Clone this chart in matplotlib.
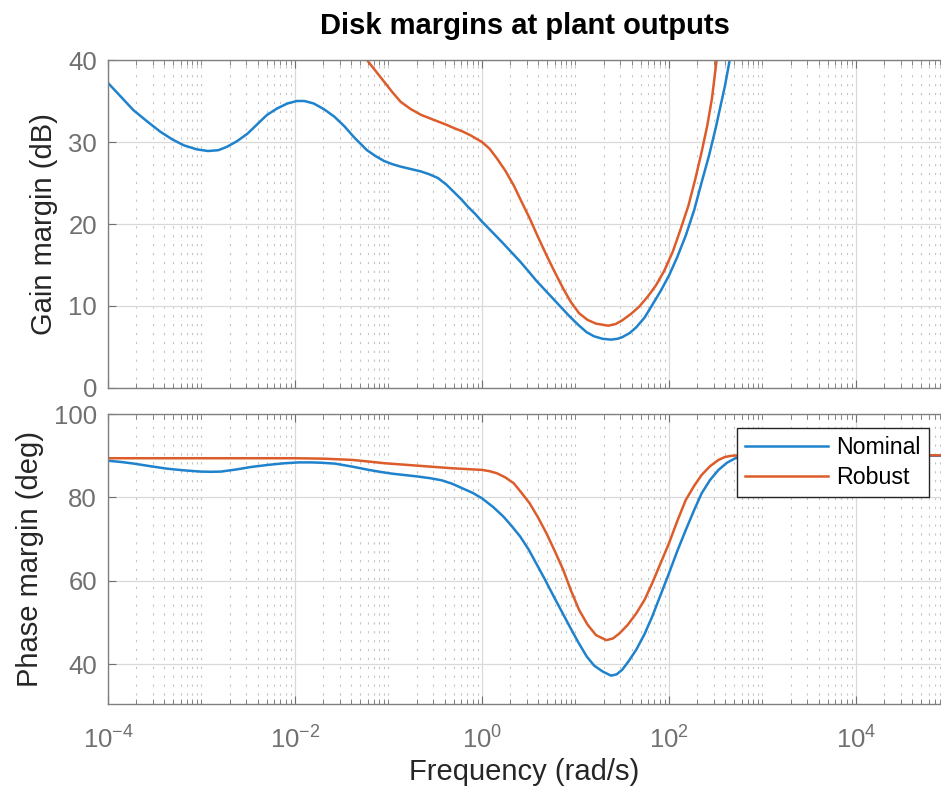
import numpy as np
import matplotlib.pyplot as plt
from matplotlib.ticker import FixedLocator, LogLocator, NullFormatter, FuncFormatter

plt.rcParams['font.family'] = 'Liberation Sans'
plt.rcParams['mathtext.fontset'] = 'custom'
plt.rcParams['mathtext.rm'] = 'Liberation Sans'
plt.rcParams['mathtext.default'] = 'regular'

# data (x as log10 of frequency in rad/s)
gm_nom_logf = [-4.00, -3.86, -3.73, -3.58, -3.44, -3.31, -3.19, -3.05, -2.93, -2.82,
               -2.73, -2.62, -2.51, -2.40, -2.30, -2.19, -2.08, -1.98, -1.90, -1.80,
               -1.69, -1.58, -1.47, -1.37, -1.30, -1.23, -1.14, -1.05, -0.96, -0.87,
               -0.76, -0.65, -0.56, -0.47, -0.38, -0.30, -0.22, -0.15, -0.07, 0.0,
               0.12, 0.23, 0.32, 0.41, 0.50, 0.58, 0.67, 0.76, 0.85, 0.94,
               1.03, 1.12, 1.20, 1.29, 1.38, 1.45, 1.50, 1.58, 1.65, 1.74,
               1.82, 1.91, 2.00, 2.09, 2.18, 2.27, 2.35, 2.43, 2.50, 2.55,
               2.60, 2.65]
gm_nom = [37.2, 35.5, 33.9, 32.5, 31.25, 30.3, 29.6, 29.1, 28.9, 29.0,
          29.4, 30.1, 31.0, 32.2, 33.3, 34.1, 34.7, 35.0, 35.0, 34.7,
          34.0, 33.1, 31.9, 30.6, 29.8, 29.0, 28.3, 27.7, 27.3, 27.0,
          26.7, 26.4, 26.05, 25.6, 24.8, 23.9, 23.0, 22.1, 21.2, 20.3,
          18.9, 17.6, 16.5, 15.4, 14.2, 13.1, 12.0, 10.9, 9.8, 8.7,
          7.7, 6.8, 6.3, 6.0, 5.9, 6.0, 6.2, 6.7, 7.4, 8.6,
          10.1, 11.8, 13.7, 16.0, 18.6, 21.7, 25.1, 28.4, 31.7, 34.3,
          36.9, 40.0]

gm_rob_logf = [-1.23, -1.14, -1.05, -0.96, -0.87, -0.76, -0.65, -0.56, -0.47, -0.38,
               -0.30, -0.21, -0.12, -0.06, 0.0, 0.08, 0.16, 0.25, 0.34, 0.42,
               0.51, 0.60, 0.69, 0.78, 0.87, 0.95, 1.04, 1.13, 1.22, 1.35,
               1.43, 1.50, 1.59, 1.68, 1.77, 1.86, 1.95, 2.04, 2.12, 2.21,
               2.28, 2.35, 2.41, 2.46, 2.51]
gm_rob = [40.0, 38.7, 37.4, 36.1, 34.9, 34.0, 33.3, 32.9, 32.5, 32.1,
          31.7, 31.3, 30.8, 30.4, 30.0, 29.2, 28.0, 26.5, 24.7, 22.8,
          20.7, 18.4, 16.2, 14.1, 12.1, 10.5, 9.1, 8.3, 7.85, 7.6,
          7.8, 8.25, 9.0, 9.9, 11.1, 12.5, 14.3, 16.6, 19.2, 22.3,
          25.4, 28.8, 32.0, 35.3, 40.0]

pm_nom_logf = [-4.00, -3.86, -3.72, -3.55, -3.37, -3.19, -3.01, -2.90, -2.79, -2.63,
               -2.47, -2.29, -2.11, -1.96, -1.82, -1.70, -1.57, -1.39, -1.21, -1.08,
               -0.96, -0.82, -0.68, -0.55, -0.43, -0.32, -0.21, -0.10, 0.0, 0.12,
               0.23, 0.32, 0.41, 0.50, 0.58, 0.67, 0.76, 0.85, 0.94, 1.03,
               1.12, 1.20, 1.29, 1.38, 1.44, 1.50, 1.57, 1.65, 1.74, 1.82,
               1.91, 2.00, 2.09, 2.18, 2.27, 2.35, 2.44, 2.53, 2.62, 2.71,
               2.85, 3.00, 4.91]
pm_nom = [88.8, 88.5, 88.1, 87.5, 86.9, 86.5, 86.2, 86.15, 86.2, 86.7,
          87.3, 87.8, 88.2, 88.4, 88.4, 88.3, 88.1, 87.4, 86.6, 86.1,
          85.7, 85.35, 85.0, 84.6, 84.1, 83.3, 82.2, 81.1, 79.8, 77.7,
          75.4, 73.1, 70.6, 67.5, 64.2, 60.5, 56.6, 52.8, 49.0, 45.3,
          41.9, 39.7, 38.3, 37.3, 37.6, 38.7, 40.8, 43.5, 47.3, 51.4,
          56.6, 61.8, 67.2, 72.2, 77.0, 81.0, 84.2, 86.6, 88.3, 89.4,
          89.9, 90.0, 90.0]

pm_rob_logf = [-4.00, -3.00, -2.00, -1.70, -1.39, -1.21, -1.04, -0.86, -0.68, -0.50,
               -0.32, -0.16, 0.0, 0.08, 0.16, 0.25, 0.34, 0.42, 0.51, 0.60,
               0.69, 0.78, 0.87, 0.95, 1.04, 1.13, 1.22, 1.33, 1.40, 1.47,
               1.56, 1.65, 1.74, 1.82, 1.91, 2.00, 2.09, 2.18, 2.27, 2.35,
               2.44, 2.53, 2.60, 2.67, 2.80, 4.91]
pm_rob = [89.4, 89.4, 89.4, 89.3, 89.0, 88.6, 88.2, 87.9, 87.6, 87.3,
          87.0, 86.8, 86.6, 86.3, 85.8, 84.8, 83.4, 81.2, 78.6, 75.2,
          71.4, 67.1, 62.6, 57.8, 53.0, 49.5, 47.0, 45.8, 46.2, 47.4,
          49.5, 52.2, 55.5, 59.4, 64.2, 69.0, 74.4, 79.4, 82.8, 85.4,
          87.5, 89.0, 89.7, 90.0, 90.1, 90.1]

x_major = [1e-4, 1e-2, 1e0, 1e2, 1e4]
gm_ticks = [0, 10, 20, 30, 40]
pm_ticks = [40, 60, 80, 100]

blue = '#1f82cc'
orange = '#dc5d2b'
gray = '#707070'

fig = plt.figure(figsize=(9.41, 7.92), dpi=100)
ax1 = fig.add_axes([108 / 941, 1 - 388 / 792, 833 / 941, 328 / 792])
ax2 = fig.add_axes([108 / 941, 1 - 704 / 792, 833 / 941, 290 / 792], sharex=ax1)

ax1.plot(10 ** np.array(gm_nom_logf), gm_nom, color=blue, lw=1.8, label='Nominal')
ax1.plot(10 ** np.array(gm_rob_logf), gm_rob, color=orange, lw=1.8, label='Robust')
ax2.plot(10 ** np.array(pm_nom_logf), pm_nom, color=blue, lw=1.8, label='Nominal')
ax2.plot(10 ** np.array(pm_rob_logf), pm_rob, color=orange, lw=1.8, label='Robust')


def style(ax):
    ax.set_xscale('log')
    ax.set_xlim(1e-4, 10 ** 4.91)
    ax.xaxis.set_major_locator(FixedLocator(x_major))
    ax.xaxis.set_minor_locator(LogLocator(base=10, subs=np.arange(1, 10), numticks=40))
    ax.xaxis.set_minor_formatter(NullFormatter())
    ax.grid(True, which='major', color='#d9d9d9', lw=0.9, ls='-')
    ax.grid(True, which='minor', axis='x', color='#c4c4c4', lw=0.8, ls=(0, (2, 6)))
    ax.tick_params(which='both', direction='in', top=True, right=False,
                   colors=gray, labelsize=18.5, pad=8)
    ax.tick_params(which='major', length=6)
    ax.tick_params(which='minor', length=3.5)
    for s in ax.spines.values():
        s.set_color('#808080')
        s.set_linewidth(1.0)
    ax.spines['right'].set_visible(False)
    ax.set_axisbelow(True)


style(ax1)
style(ax2)

ax1.set_ylim(0, 40)
ax1.set_yticks(gm_ticks)
ax2.set_ylim(30.5, 100)
ax2.set_yticks(pm_ticks)

ax1.tick_params(axis='x', labelbottom=False)
ax2.xaxis.set_major_formatter(FuncFormatter(lambda v, pos: r'$10^{%d}$' % round(np.log10(v))))
ax2.tick_params(axis='x', pad=16)

ax1.set_title('Disk margins at plant outputs', fontsize=21, fontweight='bold', pad=19)
ax1.set_ylabel('Gain margin (dB)', fontsize=21, color='#262626', labelpad=7)
ax2.set_ylabel('Phase margin (deg)', fontsize=21, color='#262626', labelpad=7)
ax2.set_xlabel('Frequency (rad/s)', fontsize=21, color='#262626', labelpad=3)

leg = ax2.legend(loc='upper right', bbox_to_anchor=(0.9856, 0.9517), borderaxespad=0,
                 fontsize=16.7, fancybox=False, edgecolor='#262626', framealpha=1,
                 handlelength=3.6, handletextpad=0.35, labelspacing=0.3, borderpad=0.35)
leg.get_frame().set_linewidth(1.0)

fig.savefig('out.png', dpi=100)
